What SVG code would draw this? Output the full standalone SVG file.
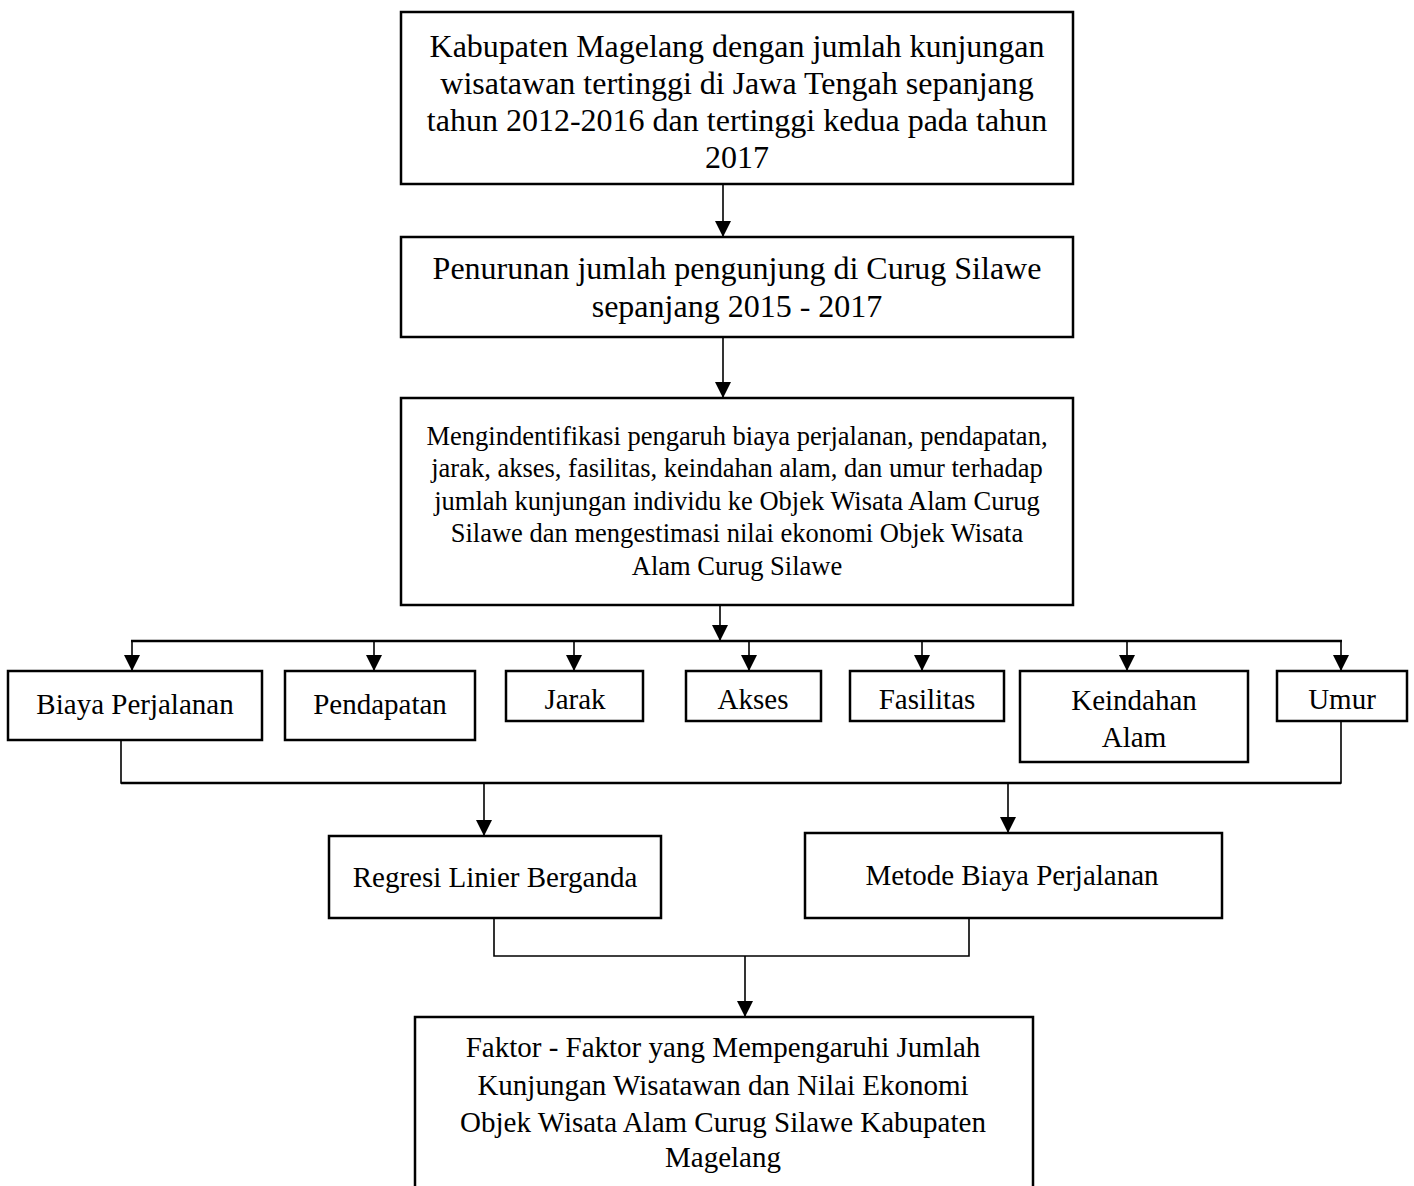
<svg xmlns="http://www.w3.org/2000/svg" width="1414" height="1186" viewBox="0 0 1414 1186">
<style>
  .box { fill: #fff; stroke: #000; stroke-width: 2.5; }
  .t { font-family: "Liberation Serif", "Times New Roman", serif; fill: #000; text-anchor: middle; }
  .t32 { font-size: 32px; }
  .t26 { font-size: 26.5px; }
  .t29 { font-size: 29px; }
  .c { fill: none; stroke: #000; stroke-width: 1.6; }
  .bus { fill: none; stroke: #000; stroke-width: 2.6; }
</style>
<defs>
  <marker id="ah" markerUnits="userSpaceOnUse" markerWidth="16" markerHeight="16" viewBox="0 0 16 16" refX="16" refY="8" orient="auto">
    <path d="M0,0 L16,8 L0,16 z" fill="#000"/>
  </marker>
</defs>
<rect width="1414" height="1186" fill="#fff"/>

<g id="connectors">
  <line class="c" x1="723" y1="184" x2="723" y2="237" marker-end="url(#ah)"/>
  <line class="c" x1="723" y1="337" x2="723" y2="398" marker-end="url(#ah)"/>
  <line class="c" x1="720" y1="605" x2="720" y2="641" marker-end="url(#ah)"/>
  <line class="bus" x1="131" y1="641" x2="1342" y2="641"/>
  <line class="c" x1="132" y1="641" x2="132" y2="671" marker-end="url(#ah)"/>
  <line class="c" x1="374" y1="641" x2="374" y2="671" marker-end="url(#ah)"/>
  <line class="c" x1="574" y1="641" x2="574" y2="671" marker-end="url(#ah)"/>
  <line class="c" x1="749" y1="641" x2="749" y2="671" marker-end="url(#ah)"/>
  <line class="c" x1="922" y1="641" x2="922" y2="671" marker-end="url(#ah)"/>
  <line class="c" x1="1127" y1="641" x2="1127" y2="671" marker-end="url(#ah)"/>
  <line class="c" x1="1341" y1="641" x2="1341" y2="671" marker-end="url(#ah)"/>
  <polyline class="c" points="121,740 121,783 1341,783 1341,722"/>
  <line class="bus" x1="121" y1="783" x2="1341" y2="783"/>
  <line class="c" x1="484" y1="783" x2="484" y2="836" marker-end="url(#ah)"/>
  <line class="c" x1="1008" y1="783" x2="1008" y2="833" marker-end="url(#ah)"/>
  <polyline class="c" points="494,918 494,956 969,956 969,918"/>
  <line class="c" x1="745" y1="956" x2="745" y2="1017" marker-end="url(#ah)"/>
</g>

<g id="node-kabupaten">
  <rect class="box" x="401" y="12" width="672" height="172"/>
  <text class="t t32" x="737" y="57">Kabupaten Magelang dengan jumlah kunjungan</text>
  <text class="t t32" x="737" y="94">wisatawan tertinggi di Jawa Tengah sepanjang</text>
  <text class="t t32" x="737" y="131">tahun 2012-2016 dan tertinggi kedua pada tahun</text>
  <text class="t t32" x="737" y="168">2017</text>
</g>

<g id="node-penurunan">
  <rect class="box" x="401" y="237" width="672" height="100"/>
  <text class="t t32" x="737" y="279">Penurunan jumlah pengunjung di Curug Silawe</text>
  <text class="t t32" x="737" y="317">sepanjang 2015 - 2017</text>
</g>

<g id="node-tujuan">
  <rect class="box" x="401" y="398" width="672" height="207"/>
  <text class="t t26" x="737" y="445">Mengindentifikasi pengaruh biaya perjalanan, pendapatan,</text>
  <text class="t t26" x="737" y="477">jarak, akses, fasilitas, keindahan alam, dan umur terhadap</text>
  <text class="t t26" x="737" y="510">jumlah kunjungan individu ke Objek Wisata Alam Curug</text>
  <text class="t t26" x="737" y="542">Silawe dan mengestimasi nilai ekonomi Objek Wisata</text>
  <text class="t t26" x="737" y="575">Alam Curug Silawe</text>
</g>

<g id="node-biaya">
  <rect class="box" x="8" y="671" width="254" height="69"/>
  <text class="t t29" x="135" y="714">Biaya Perjalanan</text>
</g>
<g id="node-pendapatan">
  <rect class="box" x="285" y="671" width="190" height="69"/>
  <text class="t t29" x="380" y="714">Pendapatan</text>
</g>
<g id="node-jarak">
  <rect class="box" x="506" y="671" width="137" height="50"/>
  <text class="t t29" x="575" y="709">Jarak</text>
</g>
<g id="node-akses">
  <rect class="box" x="686" y="671" width="135" height="50"/>
  <text class="t t29" x="753" y="709">Akses</text>
</g>
<g id="node-fasilitas">
  <rect class="box" x="850" y="671" width="154" height="50"/>
  <text class="t t29" x="927" y="709">Fasilitas</text>
</g>
<g id="node-keindahan">
  <rect class="box" x="1020" y="671" width="228" height="91"/>
  <text class="t t29" x="1134" y="710">Keindahan</text>
  <text class="t t29" x="1134" y="747">Alam</text>
</g>
<g id="node-umur">
  <rect class="box" x="1277" y="671" width="130" height="50"/>
  <text class="t t29" x="1342" y="709">Umur</text>
</g>

<g id="node-regresi">
  <rect class="box" x="329" y="836" width="332" height="82"/>
  <text class="t t29" x="495" y="887">Regresi Linier Berganda</text>
</g>
<g id="node-metode">
  <rect class="box" x="805" y="833" width="417" height="85"/>
  <text class="t t29" x="1012" y="885">Metode Biaya Perjalanan</text>
</g>

<g id="node-hasil">
  <rect class="box" x="415" y="1017" width="618" height="200"/>
  <text class="t t29" x="723" y="1057">Faktor - Faktor yang Mempengaruhi Jumlah</text>
  <text class="t t29" x="723" y="1095">Kunjungan Wisatawan dan Nilai Ekonomi</text>
  <text class="t t29" x="723" y="1132">Objek Wisata Alam Curug Silawe Kabupaten</text>
  <text class="t t29" x="723" y="1167">Magelang</text>
</g>
</svg>
